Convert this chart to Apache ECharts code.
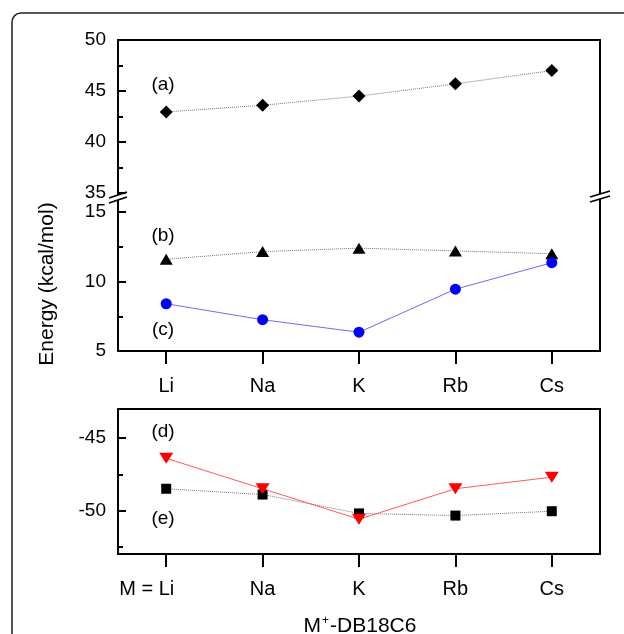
<!DOCTYPE html>
<html><head><meta charset="utf-8">
<script src="https://cdn.jsdelivr.net/npm/echarts@6/dist/echarts.min.js"></script>
<style>html,body{margin:0;padding:0;background:#fff}#c{width:624px;height:634px}</style>
</head><body><div id="c"></div>
<script>
// ---- data ----
const cations = ['Li', 'Na', 'K', 'Rb', 'Cs'];
const seriesA = [42.95, 43.6, 44.5, 45.7, 47.0];      // (a) diamonds
const seriesB = [11.6, 12.15, 12.4, 12.2, 12.0];      // (b) triangles
const seriesC = [8.4, 7.25, 6.35, 9.45, 11.35];       // (c) blue circles
const seriesD = [-46.4, -48.5, -50.6, -48.5, -47.7];  // (d) red down-triangles
const seriesE = [-48.5, -48.9, -50.2, -50.35, -50.05];// (e) squares
const bottomMajorTicks = [-50, -45];
const bottomMinorTicks = [-52.5, -47.5];
const panelLabels = ['(a)', '(b)', '(c)', '(d)', '(e)'];
const yTitle = 'Energy (kcal/mol)';

const FONT = 'Liberation Sans';
const BLACK = '#000';
const chart = echarts.init(document.getElementById('c'), null, {renderer: 'canvas'});

const L = 118, W = 482;
const grids = [
  {left: L, width: W, top: 40, height: 153},
  {left: L, width: W, top: 212, height: 139},
  {left: L, width: W, top: 409, height: 145}
];
const lineOnly = {show: true, lineStyle: {color: BLACK, width: 2}};
const noTick = {show: false};
const noLabel = {show: false};

function catAxis(gi, pos, showTicks, fmt) {
  return {
    type: 'category', gridIndex: gi, data: cations, position: pos, boundaryGap: true,
    axisLine: lineOnly,
    axisTick: showTicks ? {show: true, inside: false, alignWithLabel: true, interval: 0, length: 13, lineStyle: {color: BLACK, width: 2}} : noTick,
    axisLabel: showTicks ? {show: true, interval: 0, hideOverlap: false, margin: 25, fontFamily: FONT, fontSize: 20, color: BLACK,
      formatter: fmt || (v => v), rich: {pad: {width: 39, fontSize: 20, fontFamily: FONT}, txt: {fontSize: 20, fontFamily: FONT, color: BLACK}}} : noLabel,
    splitLine: {show: false}
  };
}
function valAxisLeft(gi, min, max, interval) {
  return {
    type: 'value', gridIndex: gi, position: 'left', min: min, max: max, interval: interval,
    axisLine: lineOnly,
    axisTick: {show: true, inside: true, length: 8, lineStyle: {color: BLACK, width: 2}},
    minorTick: {show: true, splitNumber: 2, length: 5, lineStyle: {color: BLACK, width: 2}},
    axisLabel: {show: true, margin: 12, fontFamily: FONT, fontSize: 19, color: BLACK},
    splitLine: {show: false}, minorSplitLine: {show: false}
  };
}
function valAxisRight(gi, min, max) {
  return {type: 'value', gridIndex: gi, position: 'right', min: min, max: max,
    axisLine: lineOnly, axisTick: noTick, axisLabel: noLabel, splitLine: {show: false}};
}

const xAxis = [
  catAxis(0, 'top', false),
  catAxis(1, 'bottom', true),
  catAxis(2, 'bottom', true, (v, i) => i === 0 ? '{txt|M = ' + v + '}{pad| }' : v),
  catAxis(2, 'top', false)
];
const yAxis = [
  valAxisLeft(0, 35, 50, 5),
  valAxisRight(0, 35, 50),
  valAxisLeft(1, 5, 15, 5),
  valAxisRight(1, 5, 15),
  {type: 'value', gridIndex: 2, position: 'left', min: -53, max: -43,
    axisLine: lineOnly,
    axisTick: {show: true, inside: true, length: 8, customValues: bottomMajorTicks, lineStyle: {color: BLACK, width: 2}},
    axisLabel: {show: true, margin: 12, fontFamily: FONT, fontSize: 19, color: BLACK, customValues: bottomMajorTicks},
    splitLine: {show: false}},
  {type: 'value', gridIndex: 2, position: 'left', offset: 0, min: -53, max: -43,
    axisLine: {show: false},
    axisTick: {show: true, inside: true, length: 5, customValues: bottomMinorTicks, lineStyle: {color: BLACK, width: 2}},
    axisLabel: noLabel, splitLine: {show: false}},
  valAxisRight(2, -53, -43)
];

const dotted = c => ({color: c || '#777', width: 1, type: 'dotted'});
const series = [
  {name: 'a', type: 'line', xAxisIndex: 0, yAxisIndex: 0, data: seriesA, symbol: 'diamond', symbolSize: 13,
    itemStyle: {color: BLACK}, lineStyle: dotted(), z: 3},
  {name: 'b', type: 'line', xAxisIndex: 1, yAxisIndex: 2, data: seriesB, symbol: 'triangle', symbolSize: [13, 11],
    itemStyle: {color: BLACK}, lineStyle: dotted(), z: 3},
  {name: 'c', type: 'line', xAxisIndex: 1, yAxisIndex: 2, data: seriesC, symbol: 'circle', symbolSize: 11,
    itemStyle: {color: '#0000ff'}, lineStyle: {color: '#6a6aff', width: 1}, z: 3},
  {name: 'e', type: 'line', xAxisIndex: 2, yAxisIndex: 4, data: seriesE, symbol: 'rect', symbolSize: 10,
    itemStyle: {color: BLACK}, lineStyle: dotted(), z: 3},
  {name: 'd', type: 'line', xAxisIndex: 2, yAxisIndex: 4, data: seriesD, symbol: 'triangle', symbolRotate: 180, symbolSize: [14, 11],
    itemStyle: {color: '#ff0000'}, lineStyle: {color: '#ff5a5a', width: 1}, z: 4}
];
series.forEach(s => { s.animation = false; s.emphasis = {disabled: true}; s.silent = true; });

const labelPos = [[163, 85], [163, 236], [163, 330], [163, 432], [163, 519]];
const txtStyle = (t, fs) => ({text: t, fill: BLACK, font: fs + 'px "' + FONT + '"', align: 'center', verticalAlign: 'middle'});
const graphic = [
  {type: 'rect', shape: {x: 12, y: 13, width: 700, height: 700, r: 9}, style: {fill: 'none', stroke: '#222', lineWidth: 1.5}},
  // left axis across the break
  {type: 'line', shape: {x1: L, y1: 193, x2: L, y2: 195}, style: {stroke: BLACK, lineWidth: 2}},
  {type: 'line', shape: {x1: L, y1: 200, x2: L, y2: 212}, style: {stroke: BLACK, lineWidth: 2}},
  {type: 'line', shape: {x1: 109, y1: 198, x2: 127, y2: 192}, style: {stroke: BLACK, lineWidth: 1.8}},
  {type: 'line', shape: {x1: 109, y1: 203, x2: 127, y2: 197}, style: {stroke: BLACK, lineWidth: 1.8}},
  // right axis across the break
  {type: 'line', shape: {x1: L + W, y1: 193, x2: L + W, y2: 194}, style: {stroke: BLACK, lineWidth: 2}},
  {type: 'line', shape: {x1: L + W, y1: 199, x2: L + W, y2: 212}, style: {stroke: BLACK, lineWidth: 2}},
  {type: 'line', shape: {x1: 590, y1: 197, x2: 610, y2: 191}, style: {stroke: BLACK, lineWidth: 1.8}},
  {type: 'line', shape: {x1: 590, y1: 202, x2: 610, y2: 196}, style: {stroke: BLACK, lineWidth: 1.8}},
  {type: 'text', x: 47, y: 284, rotation: Math.PI / 2, style: txtStyle(yTitle, 21)},
  {type: 'text', x: 360, y: 626, style: {text: 'M{s|+}-DB18C6', fill: BLACK, font: '21px "' + FONT + '"', align: 'center', verticalAlign: 'middle',
     rich: {s: {fontSize: 12, fontFamily: FONT, verticalAlign: 'top', padding: [0, 1, 10, 1], fill: BLACK}}}}
].concat(panelLabels.map((t, i) => ({type: 'text', x: labelPos[i][0], y: labelPos[i][1], style: txtStyle(t, 19)})));

chart.setOption({
  animation: false,
  backgroundColor: '#fff',
  grid: grids,
  xAxis: xAxis,
  yAxis: yAxis,
  series: series,
  graphic: graphic
});
</script></body></html>
